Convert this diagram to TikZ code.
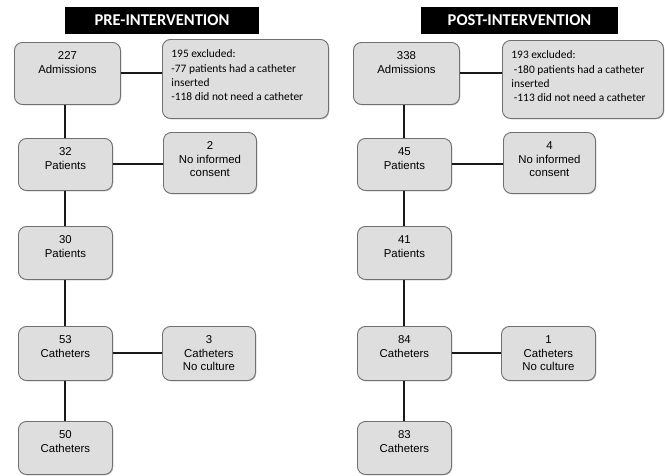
\documentclass[tikz,border=0pt]{standalone}
\usepackage{fontspec}
\setmainfont{Liberation Sans}
\newfontfamily\calib{Carlito}
\usetikzlibrary{shadows}
\definecolor{boxfill}{HTML}{DEDEDE}
\definecolor{boxline}{HTML}{707070}
\newcommand{\bt}[3]{\parbox[t][#2][t]{#1}{\fontsize{11.4}{13.4}\selectfont\centering\rule{0pt}{17.5pt}#3}}
\newcommand{\et}[3]{\parbox[t][#2][t]{#1}{\calib\fontsize{11.4}{14.2}\selectfont\raggedright\leftskip=9pt\rule{0pt}{18.5pt}#3}}
\tikzset{
  box/.style={draw=boxline, line width=0.9pt, fill=boxfill, rounded corners=8pt,
    inner sep=0pt, anchor=north west,
    drop shadow={shadow xshift=0.8pt, shadow yshift=-0.8pt, opacity=0.25, fill=black}},
  hdr/.style={fill=black, text=white, inner sep=0pt, minimum height=27pt,
    font=\calib\bfseries\fontsize{16.5}{18}\selectfont},
  conn/.style={line width=2pt, draw=black!90}
}
\begin{document}
\begin{tikzpicture}[x=1pt,y=-1pt]
\useasboundingbox (0,0) rectangle (665,475);
% headers
\node[hdr, minimum width=194pt] (H1) at (162,20) {PRE-INTERVENTION};
\node[hdr, minimum width=197pt] (H2) at (519.5,20.5) {POST-INTERVENTION};
% left column
\node[box] (A1) at (14,42) {\bt{106pt}{62pt}{227\\Admissions}};
\node[box] (E1) at (162,39) {\et{166pt}{79pt}{195 excluded:\\-77 patients had a catheter\\inserted\\-118 did not need a catheter}};
\node[box] (P1) at (18,138) {\bt{94pt}{52pt}{32\\Patients}};
\node[box] (N1) at (163,132) {\bt{93pt}{61pt}{2\\No informed\\consent}};
\node[box] (P2) at (18,226) {\bt{94pt}{53pt}{30\\Patients}};
\node[box] (C1) at (18,326) {\bt{94pt}{54pt}{53\\Catheters}};
\node[box] (X1) at (162,326) {\bt{93pt}{54pt}{3\\Catheters\\No culture}};
\node[box] (C2) at (18,421) {\bt{94pt}{53pt}{50\\Catheters}};
% right column
\node[box] (A2) at (353,42) {\bt{106pt}{62pt}{338\\Admissions}};
\node[box] (E2) at (502,40) {\et{161pt}{78pt}{193 excluded:\\\hspace*{2.5pt}-180 patients had a catheter\\inserted\\\hspace*{2.5pt}-113 did not need a catheter}};
\node[box] (P3) at (357,138) {\bt{94pt}{52pt}{45\\Patients}};
\node[box] (N2) at (503,132) {\bt{92pt}{61pt}{4\\No informed\\consent}};
\node[box] (P4) at (357,226) {\bt{94pt}{53pt}{41\\Patients}};
\node[box] (C3) at (357,326) {\bt{94pt}{54pt}{84\\Catheters}};
\node[box] (X2) at (501,326) {\bt{94pt}{54pt}{1\\Catheters\\No culture}};
\node[box] (C4) at (357,421) {\bt{94pt}{53pt}{83\\Catheters}};
% connectors left
\draw[conn] (A1.east) -- (A1.east -| E1.west);
\draw[conn] (P1.north) -- (P1.north |- A1.south);
\draw[conn] (P1.east) -- (P1.east -| N1.west);
\draw[conn] (P1.south) -- (P1.south |- P2.north);
\draw[conn] (P2.south) -- (P2.south |- C1.north);
\draw[conn] (C1.east) -- (C1.east -| X1.west);
\draw[conn] (C1.south) -- (C1.south |- C2.north);
% connectors right
\draw[conn] (A2.east) -- (A2.east -| E2.west);
\draw[conn] (P3.north) -- (P3.north |- A2.south);
\draw[conn] (P3.east) -- (P3.east -| N2.west);
\draw[conn] (P3.south) -- (P3.south |- P4.north);
\draw[conn] (P4.south) -- (P4.south |- C3.north);
\draw[conn] (C3.east) -- (C3.east -| X2.west);
\draw[conn] (C3.south) -- (C3.south |- C4.north);
\end{tikzpicture}
\end{document}
